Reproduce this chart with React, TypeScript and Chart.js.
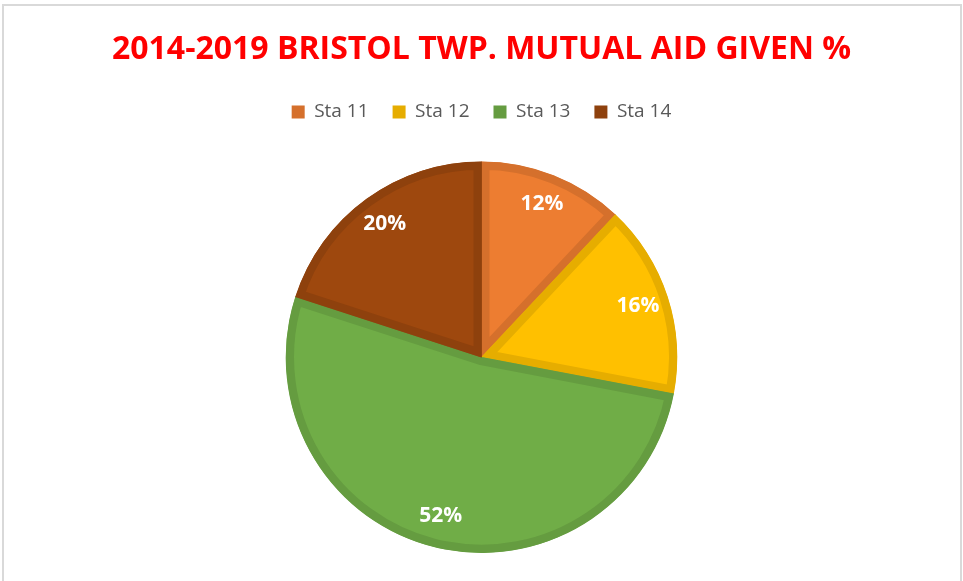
import React, { useEffect, useRef } from "react";
import { Chart, registerables } from "chart.js";

Chart.register(...registerables);

const titleText = "2014-2019 BRISTOL TWP. MUTUAL AID GIVEN %";
const categories = ["Sta 11", "Sta 12", "Sta 13", "Sta 14"];
const percentages = [12, 16, 52, 20];
const fillColors = ["#ED7D31", "#FFC000", "#70AD47", "#9E480E"];
const edgeColors = ["#D5702C", "#E6AD00", "#659C40", "#8E410D"];

const pieLabelPlugin = {
  id: "pieLabels",
  afterDatasetsDraw(chart: any) {
    const { ctx } = chart;
    const meta = chart.getDatasetMeta(0);
    ctx.save();
    ctx.fillStyle = "#FFFFFF";
    ctx.font = "bold 21px 'Open Sans'";
    ctx.textAlign = "center";
    ctx.textBaseline = "middle";
    meta.data.forEach((arc: any, i: number) => {
      const p = arc.getProps(["x", "y", "startAngle", "endAngle", "outerRadius"], true);
      const mid = (p.startAngle + p.endAngle) / 2;
      const r = p.outerRadius * 0.84;
      ctx.fillText(percentages[i] + "%", p.x + Math.cos(mid) * r, p.y + Math.sin(mid) * r);
    });
    ctx.restore();
  },
};

export default function App() {
  const canvasRef = useRef<HTMLCanvasElement | null>(null);

  useEffect(() => {
    document.body.style.margin = "0";
    const canvas = canvasRef.current;
    if (!canvas) return;
    const chart = new Chart(canvas, {
      type: "pie",
      data: {
        labels: categories,
        datasets: [
          {
            data: percentages,
            backgroundColor: fillColors,
            borderColor: edgeColors,
            borderWidth: 8,
            borderAlign: "inner",
          } as any,
        ],
      },
      options: {
        responsive: false,
        animation: false,
        layout: { padding: { top: 0, bottom: 28, left: 0, right: 0 } },
        plugins: {
          tooltip: { enabled: false },
          title: {
            display: true,
            text: titleText,
            color: "#FF0000",
            font: { family: "'Open Sans'", size: 32, weight: "bold", lineHeight: 1.2 },
            padding: { top: 31, bottom: 9 },
          },
          legend: {
            display: true,
            position: "top",
            labels: {
              color: "#595959",
              font: { family: "'Open Sans'", size: 19 },
              boxWidth: 13,
              boxHeight: 13,
              padding: 24,
              generateLabels: (c: any) =>
                categories.map((name, i) => ({
                  text: name,
                  fillStyle: edgeColors[i],
                  strokeStyle: edgeColors[i],
                  lineWidth: 0,
                  hidden: false,
                  index: i,
                  fontColor: "#595959",
                })),
            },
          },
          subtitle: {
            display: true,
            text: "",
            position: "top",
            weight: 500,
            font: { size: 10, lineHeight: 1 },
            padding: { top: 20, bottom: 0 },
          },
        },
      } as any,
      plugins: [pieLabelPlugin],
    });
    return () => chart.destroy();
  }, []);

  return (
    <div style={{ position: "fixed", left: 0, top: 0, width: 963, height: 581, background: "#FFFFFF", overflow: "hidden" }}>
      <div
        style={{
          position: "absolute",
          left: 2,
          top: 4,
          width: 960,
          height: 620,
          boxSizing: "border-box",
          borderLeft: "2px solid #D9D9D9",
          borderTop: "2px solid #D9D9D9",
          borderRight: "2px solid #D9D9D9",
        }}
      />
      <canvas ref={canvasRef} width={963} height={581} style={{ position: "absolute", left: 0, top: 0 }} />
    </div>
  );
}
